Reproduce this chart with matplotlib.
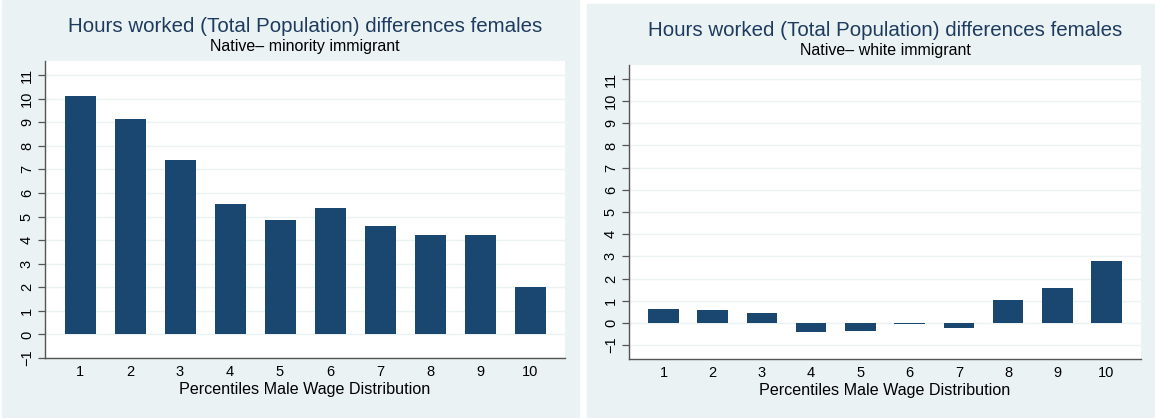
import matplotlib.pyplot as plt
from matplotlib.patches import Rectangle
import numpy as np

# percentiles of the male wage distribution
percentiles = [1, 2, 3, 4, 5, 6, 7, 8, 9, 10]

# native - minority immigrant
diff_minority = [10.1, 9.15, 7.38, 5.55, 4.87, 5.37, 4.62, 4.2, 4.23, 2.02]
# native - white immigrant
diff_white = [0.62, 0.58, 0.43, -0.42, -0.36, -0.07, -0.25, 1.03, 1.57, 2.77]

title = "Hours worked (Total Population) differences females"
subtitles = ["Native\u2013 minority immigrant", "Native\u2013 white immigrant"]
xlabel = "Percentiles Male Wage Distribution"
yticks = list(range(-1, 12))

bar_col = "#1a476f"
panel_col = "#eaf2f3"
title_col = "#1e3b5f"

plt.rcParams['font.family'] = ['Liberation Sans', 'DejaVu Sans']

W, H = 1155, 418
fig = plt.figure(figsize=(W / 100, H / 100), dpi=100)
fig.patch.set_facecolor("white")

# grey-blue panel backgrounds (pixel coords)
for (x0, y0, x1, y1) in [(2, 0, 579, 417), (587, 4, 1155, 417)]:
    fig.patches.append(Rectangle((x0 / W, 1 - y1 / H), (x1 - x0) / W, (y1 - y0) / H,
                                 transform=fig.transFigure, color=panel_col, zorder=-10))

# axes boxes: left, top, right, bottom in pixels
boxes = [(45, 61, 565, 358), (629, 65, 1141, 359)]
ylims = [(-1, 11.6), (-1.63, 11.63)]
tops = [(27, 47), (30, 50)]
datas = [diff_minority, diff_white]

for i in range(2):
    l, t, r, b = boxes[i]
    ax = fig.add_axes([l / W, 1 - b / H, (r - l) / W, (b - t) / H])
    ax.bar(percentiles, datas[i], width=0.62, color=bar_col, zorder=3)
    ax.set_xlim(0.3, 10.7)
    ax.set_ylim(*ylims[i])
    ax.set_xticks(percentiles)
    ax.set_yticks(yticks)
    ax.set_yticklabels([str(v).replace('-', '\u2212') for v in yticks], rotation=90, va='center')
    ax.grid(axis='y', color=panel_col, linewidth=1.0, zorder=0)
    ax.set_axisbelow(True)
    for s in ['top', 'right']:
        ax.spines[s].set_visible(False)
    for s in ['left', 'bottom']:
        ax.spines[s].set_color('#555555')
        ax.spines[s].set_linewidth(1.0)
    ax.tick_params(axis='y', length=5, width=0.9, color='#555555', labelsize=10.5, pad=3)
    ax.tick_params(axis='x', length=0, labelsize=10.5, pad=5)
    ax.set_xlabel(xlabel, fontsize=11.6, labelpad=2)

    cx = (l + r) / 2 / W
    fig.text(cx, 1 - tops[i][0] / H, title, ha='center', va='center',
             fontsize=14.8, color=title_col)
    fig.text(cx, 1 - tops[i][1] / H, subtitles[i], ha='center', va='center',
             fontsize=11.5, color='black')

fig.savefig("out.png", dpi=100)
